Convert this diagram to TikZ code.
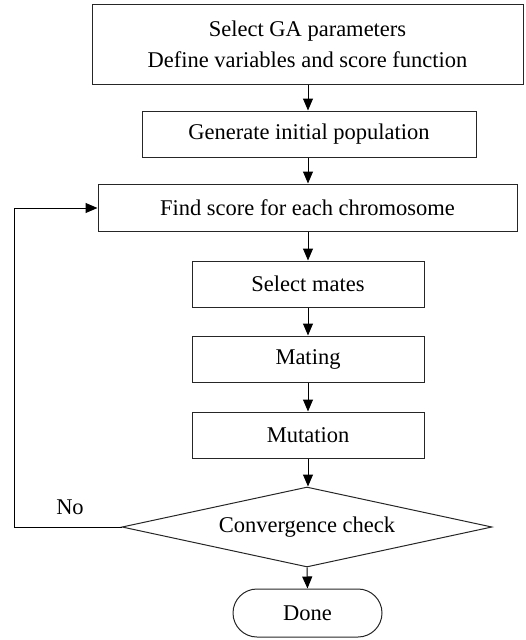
\documentclass[tikz,border=0pt]{standalone}
\usepackage{fontspec}
\setmainfont{Liberation Serif}
\usetikzlibrary{arrows.meta,shapes.geometric,shapes.misc}
\begin{document}
\begin{tikzpicture}[x=1pt,y=-1pt,
  every node/.style={font=\fontsize{22.5}{31}\selectfont, inner sep=0pt},
  box/.style={draw=black!85, line width=1pt, rectangle},
  conn/.style={draw=black, line width=1pt, -{Triangle[length=12pt,width=10pt]}}]
\useasboundingbox (0,0) rectangle (525,640);
\node[box, minimum width=431, minimum height=80, align=center] (b1) at (307.5,44) {Select GA parameters\\Define variables and score function};
\node[box, minimum width=334, minimum height=46] (b2) at (309,134) {Generate initial population};
\node[box, minimum width=419, minimum height=47] (b3) at (307.5,207.5) {Find score for each chromosome};
\node[box, minimum width=232, minimum height=46] (b4) at (308,284) {Select mates};
\node[box, minimum width=232, minimum height=46] (b5) at (308,359) {Mating};
\node[box, minimum width=232, minimum height=46] (b6) at (308,435) {Mutation};
\node[draw=black!85, line width=1pt, diamond, aspect=4.6, minimum width=370, minimum height=80] (d) at (307,527) {Convergence check};
\node[draw=black!85, line width=1pt, rounded rectangle, minimum width=149, minimum height=48] (done) at (307.5,613) {Done};
\node (no) at (70,507) {No};
\coordinate (c1) at (14,527);
\coordinate (c2) at (14,208);
\draw[conn] (b1.south -| b4) -- (b2.north -| b4);
\draw[conn] (b2.south -| b4) -- (b3.north -| b4);
\draw[conn] (b3.south -| b4) -- (b4.north);
\draw[conn] (b4.south) -- (b5.north);
\draw[conn] (b5.south) -- (b6.north);
\draw[conn] (b6.south) -- (d.north -| b6);
\draw[conn] (d.south) -- (done.north);
\draw[conn] (d.west) -- (c1) -- (c2) -- (b3.west |- c2);
\end{tikzpicture}
\end{document}
